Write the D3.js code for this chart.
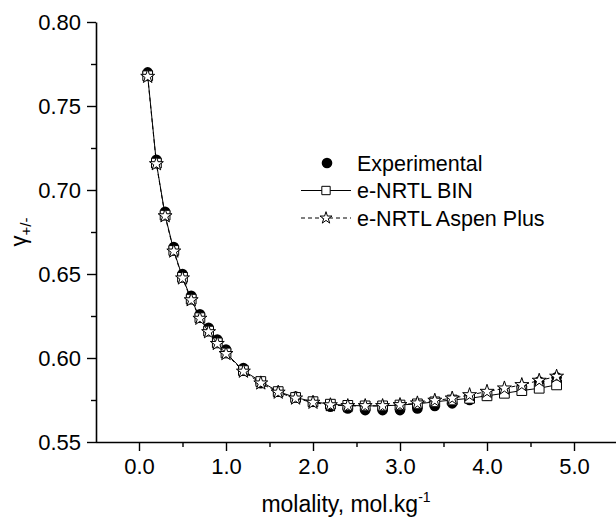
<!DOCTYPE html>
<html>
<head>
<meta charset="utf-8">
<script src="https://cdn.jsdelivr.net/npm/d3@7"></script>
<style>
  body { margin: 0; background: #fff; }
  svg { font-family: "Liberation Sans", Arial, sans-serif; }
</style>
</head>
<body>
<svg width="616" height="519"></svg>
<script>
// values
var molality = [0.1, 0.2, 0.3, 0.4, 0.5, 0.6, 0.7, 0.8, 0.9, 1.0, 1.2, 1.4, 1.6, 1.8, 2.0,
                2.2, 2.4, 2.6, 2.8, 3.0, 3.2, 3.4, 3.6, 3.8, 4.0, 4.2, 4.4, 4.6, 4.8];
var experimental = [0.770, 0.718, 0.687, 0.666, 0.650, 0.637, 0.626, 0.618, 0.611, 0.605, 0.594, 0.585, 0.580, 0.577, 0.574,
                    0.571, 0.570, 0.569, 0.569, 0.569, 0.570, 0.5715, 0.573, 0.575, 0.5775, 0.580, 0.583, 0.586, 0.5885];
var enrtlBin = [0.768, 0.716, 0.685, 0.664, 0.648, 0.635, 0.624, 0.616, 0.609, 0.603, 0.5925, 0.586, 0.580, 0.5765, 0.574,
                0.5725, 0.5718, 0.5715, 0.5715, 0.572, 0.5727, 0.5739, 0.575, 0.576, 0.5775, 0.579, 0.5806, 0.582, 0.584];
var enrtlAspen = [0.7675, 0.7155, 0.6845, 0.6635, 0.6475, 0.6345, 0.6235, 0.6155, 0.6085, 0.6025, 0.592, 0.585, 0.5795, 0.576, 0.5735,
                  0.572, 0.5715, 0.5715, 0.5715, 0.5721, 0.5731, 0.5747, 0.576, 0.578, 0.580, 0.582, 0.584, 0.5866, 0.589];

var xMajor = [0, 1, 2, 3, 4, 5];
var xMinor = [0.5, 1.5, 2.5, 3.5, 4.5];
var yMajor = [0.55, 0.60, 0.65, 0.70, 0.75, 0.80];
var yMinor = [0.575, 0.625, 0.675, 0.725, 0.775];
var legendLabels = ["Experimental", "e-NRTL BIN", "e-NRTL Aspen Plus"];

var svg = d3.select("svg");

var x = d3.scaleLinear().domain([-0.5, 5.5]).range([95.5, 617.5]);
var y = d3.scaleLinear().domain([0.55, 0.80]).range([442, 22]);

// x axis
var gx = svg.append("g").attr("transform", "translate(0,442)");
gx.call(d3.axisBottom(x).tickValues(xMajor).tickSize(9).tickPadding(7)
    .tickFormat(d3.format(".1f")).tickSizeOuter(0));
gx.append("g").call(d3.axisBottom(x).tickValues(xMinor).tickSize(5).tickFormat("").tickSizeOuter(0))
  .select(".domain").remove();

// y axis
var gy = svg.append("g").attr("transform", "translate(96,0)");
gy.call(d3.axisLeft(y).tickValues(yMajor).tickSize(9).tickPadding(6)
    .tickFormat(d3.format(".2f")).tickSizeOuter(0));
gy.append("g").call(d3.axisLeft(y).tickValues(yMinor).tickSize(5).tickFormat("").tickSizeOuter(0))
  .select(".domain").remove();

svg.selectAll(".domain").attr("stroke", "#000").attr("stroke-width", 1.6);
svg.selectAll(".tick line").attr("stroke", "#000").attr("stroke-width", 1.4);
svg.selectAll(".tick text").attr("font-size", 22).attr("fill", "#000")
  .attr("font-family", "Liberation Sans, Arial, sans-serif");

// axis titles
var xt = svg.append("text").attr("x", 346).attr("y", 512).attr("text-anchor", "middle")
  .attr("font-size", 23).text("molality, mol.kg");
xt.append("tspan").attr("font-size", 14).attr("dy", -10).text("-1");

var yt = svg.append("text").attr("transform", "translate(26,232) rotate(-90)")
  .attr("text-anchor", "middle").attr("font-size", 22).text("\u03b3");
yt.append("tspan").attr("font-size", 15).attr("dy", 5).text("+/-");

var pts = molality.map(function(m, i) {
  return { m: m, exp: experimental[i], bin: enrtlBin[i], aspen: enrtlAspen[i] };
});

var plot = svg.append("g");

// experimental
plot.selectAll(".exp").data(pts).enter().append("circle")
  .attr("cx", d => x(d.m)).attr("cy", d => y(d.exp)).attr("r", 5.3).attr("fill", "#000");

// e-NRTL BIN
var lineBin = d3.line().x(d => x(d.m)).y(d => y(d.bin));
plot.append("path").datum(pts).attr("d", lineBin)
  .attr("fill", "none").attr("stroke", "#000").attr("stroke-width", 1);
var sq = d3.symbol().type(d3.symbolSquare).size(95);
plot.selectAll(".bin").data(pts).enter().append("path")
  .attr("d", sq).attr("transform", d => "translate(" + x(d.m) + "," + y(d.bin) + ")")
  .attr("fill", "#fff").attr("stroke", "#000").attr("stroke-width", 1);

// e-NRTL Aspen Plus
var lineAspen = d3.line().x(d => x(d.m)).y(d => y(d.aspen));
plot.append("path").datum(pts).attr("d", lineAspen)
  .attr("fill", "none").attr("stroke", "#000").attr("stroke-width", 1).attr("stroke-dasharray", "4,3");
var star = d3.symbol().type(d3.symbolStar).size(60);
plot.selectAll(".aspen").data(pts).enter().append("path")
  .attr("d", star).attr("transform", d => "translate(" + x(d.m) + "," + y(d.aspen) + ")")
  .attr("fill", "#fff").attr("stroke", "#000").attr("stroke-width", 1);

// legend
var leg = svg.append("g");
var rows = [163, 190.5, 218];
leg.append("circle").attr("cx", 327).attr("cy", rows[0]).attr("r", 5.3).attr("fill", "#000");
leg.append("line").attr("x1", 301).attr("x2", 351).attr("y1", rows[1]).attr("y2", rows[1])
  .attr("stroke", "#000").attr("stroke-width", 1);
leg.append("path").attr("d", d3.symbol().type(d3.symbolSquare).size(70)).attr("transform", "translate(326," + rows[1] + ")")
  .attr("fill", "#fff").attr("stroke", "#000");
leg.append("line").attr("x1", 301).attr("x2", 351).attr("y1", rows[2]).attr("y2", rows[2])
  .attr("stroke", "#000").attr("stroke-width", 1).attr("stroke-dasharray", "4,3");
leg.append("path").attr("d", d3.symbol().type(d3.symbolStar).size(45)).attr("transform", "translate(326," + rows[2] + ")")
  .attr("fill", "#fff").attr("stroke", "#000");
leg.selectAll(".lt").data(legendLabels).enter().append("text")
  .attr("x", 357).attr("y", (d, i) => rows[i]).attr("dy", "0.36em")
  .attr("font-size", 21.5).text(d => d);
</script>
</body>
</html>
